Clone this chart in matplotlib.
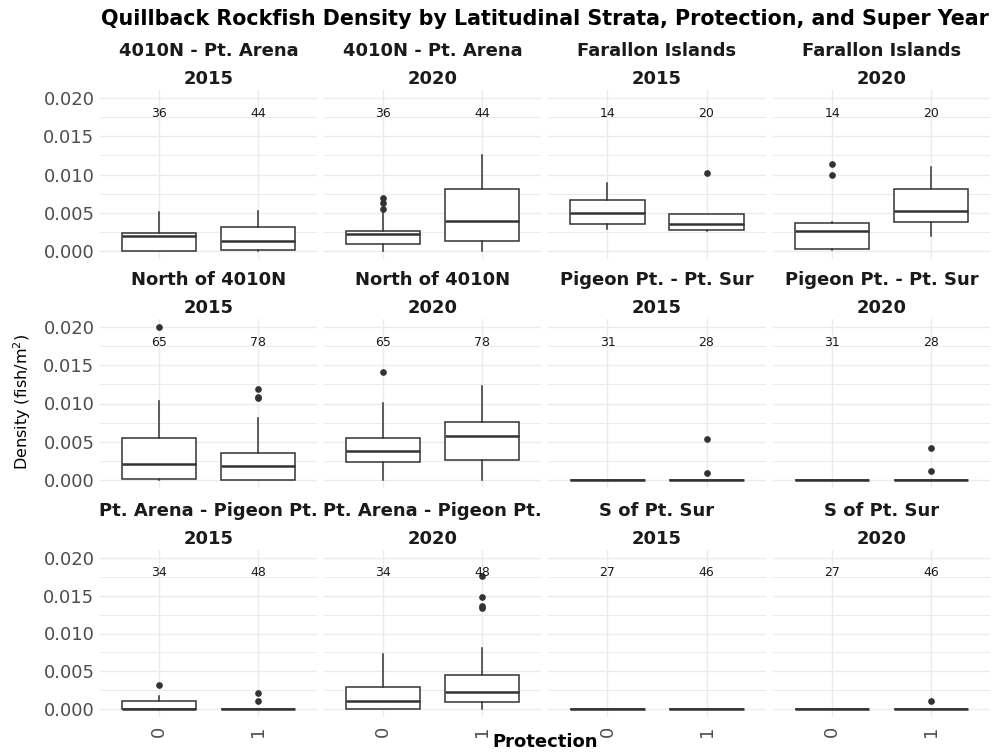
import matplotlib
matplotlib.use("Agg")
import matplotlib.pyplot as plt
from matplotlib.ticker import MultipleLocator

plt.rcParams['font.family'] = ['DejaVu Sans']
plt.rcParams['mathtext.fontset'] = 'dejavusans'

# Datos (densidad en 0.001 peces/m2)
estratos = ["4010N - Pt. Arena", "Farallon Islands", "North of 4010N",
            "Pigeon Pt. - Pt. Sur", "Pt. Arena - Pigeon Pt.", "S of Pt. Sur"]
anios = ["2015", "2020"]
proteccion = ["0", "1"]
n_muestras = [[36, 44], [14, 20], [65, 78], [31, 28], [34, 48], [27, 46]]

# orden: estrato -> anio -> proteccion
bigote_inf = [0, 0, 0.1, 0,
              2.92, 2.7, 0.13, 2.03,
              0, 0, 0, 0,
              0, 0, 0, 0,
              0, 0, 0, 0,
              0, 0, 0, 0]
cuartil_1 = [0, 0.22, 1.0, 1.37,
             3.54, 2.76, 0.27, 3.8,
             0.22, 0, 2.36, 2.62,
             0, 0, 0, 0,
             0, 0, 0, 0.97,
             0, 0, 0, 0]
mediana = [2.03, 1.37, 2.2, 3.98,
           5.0, 3.58, 2.61, 5.2,
           2.14, 1.88, 3.8, 5.77,
           0, 0, 0, 0,
           0, 0, 1.07, 2.3,
           0, 0, 0, 0]
cuartil_3 = [2.35, 3.14, 2.7, 8.09,
             6.72, 4.9, 3.67, 8.09,
             5.47, 3.5, 5.47, 7.57,
             0, 0, 0, 0,
             1.1, 0, 2.93, 4.5,
             0, 0, 0, 0]
bigote_sup = [5.08, 5.3, 5.4, 12.6,
              8.85, 4.9, 3.85, 10.97,
              10.3, 8.05, 10.07, 12.3,
              0, 0, 0, 0,
              1.77, 0, 7.33, 8.09,
              0, 0, 0, 0]
atipicos = [[], [], [5.57, 6.3, 7.0], [],
            [], [10.2], [9.95, 11.4], [],
            [20.0], [10.7, 10.9, 11.9], [14.1], [],
            [], [0.96, 5.34], [], [1.22, 4.24],
            [3.2], [1.16, 2.2], [], [13.4, 13.6, 14.8, 17.6],
            [], [], [], [1.1]]

escala = 0.001
gris_texto = "#4D4D4D"
color_caja = "#333333"
color_grilla = "#EBEBEB"

fig = plt.figure(figsize=(9.93, 7.53), dpi=100)
W, H = 993, 753
columnas_px = [(100, 317), (324, 541), (548, 766), (773, 990)]
filas_px = [(90, 259), (319, 488), (550, 717)]

valor_max = max(max(bigote_sup), max(max(a) for a in atipicos if a)) * escala
relleno = 0.05 * valor_max

for i, estrato in enumerate(estratos):
    for j, anio in enumerate(anios):
        fila = i // 2
        col = (i % 2) * 2 + j
        x0, x1 = columnas_px[col]
        y0, y1 = filas_px[fila]
        ax = fig.add_axes([x0 / W, 1 - y1 / H, (x1 - x0) / W, (y1 - y0) / H])

        stats = []
        for k in range(2):
            idx = i * 4 + j * 2 + k
            stats.append(dict(whislo=bigote_inf[idx] * escala, q1=cuartil_1[idx] * escala,
                              med=mediana[idx] * escala, q3=cuartil_3[idx] * escala,
                              whishi=bigote_sup[idx] * escala,
                              fliers=[v * escala for v in atipicos[idx]]))
        ax.bxp(stats, positions=[1, 2], widths=0.75, patch_artist=True, showcaps=False,
               boxprops=dict(facecolor="white", edgecolor=color_caja, linewidth=1.1),
               medianprops=dict(color=color_caja, linewidth=1.8),
               whiskerprops=dict(color=color_caja, linewidth=1.1),
               flierprops=dict(marker="o", markersize=3.8, markerfacecolor=color_caja,
                               markeredgecolor=color_caja), zorder=3)

        for k in range(2):
            ax.text(k + 1, 0.018, str(n_muestras[i][k]), ha="center", va="center",
                    fontsize=9, color="#1A1A1A", zorder=4)

        ax.set_xlim(0.4, 2.6)
        ax.set_ylim(-relleno, valor_max + relleno)
        ax.set_xticks([1, 2])
        ax.yaxis.set_major_locator(MultipleLocator(0.005))
        ax.yaxis.set_minor_locator(MultipleLocator(0.0025))
        ax.grid(True, which="major", color=color_grilla, linewidth=1.0, zorder=0)
        ax.grid(True, which="minor", axis="y", color=color_grilla, linewidth=0.7, zorder=0)
        ax.set_axisbelow(True)
        for s in ax.spines.values():
            s.set_visible(False)
        ax.tick_params(which="both", length=0, labelsize=13, labelcolor=gris_texto)

        if col == 0:
            ax.set_yticklabels([f"{t:.3f}" for t in ax.get_yticks()])
            ax.tick_params(axis="y", pad=4)
        else:
            ax.set_yticklabels([])
        if fila == 2:
            ax.set_xticklabels(proteccion, rotation=90)
            ax.tick_params(axis="x", pad=6)
        else:
            ax.set_xticklabels([])

        cx = (x0 + x1) / 2 / W
        fig.text(cx, 1 - (y0 - 39) / H, estrato, ha="center", va="center",
                 fontsize=13, fontweight="bold", color="#1A1A1A")
        fig.text(cx, 1 - (y0 - 11) / H, anio, ha="center", va="center",
                 fontsize=13, fontweight="bold", color="#1A1A1A")

fig.text(545 / W, 1 - 19 / H,
         "Quillback Rockfish Density by Latitudinal Strata, Protection, and Super Year",
         ha="center", va="center", fontsize=14.9, fontweight="bold", color="black")
fig.text(545 / W, 1 - 742 / H, "Protection", ha="center", va="center",
         fontsize=13, fontweight="bold", color="black")
fig.text(22 / W, 1 - 402 / H, "Density (fish/m$^2$)", ha="center", va="center",
         rotation=90, fontsize=11.5, color="black")

fig.savefig("out.png", dpi=100, facecolor="white")
